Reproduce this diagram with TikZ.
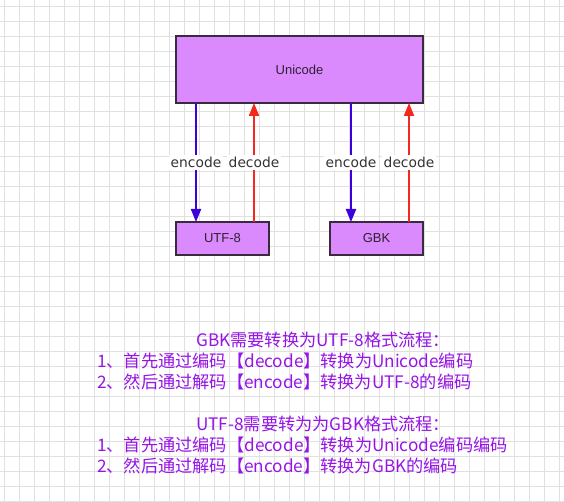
\documentclass[tikz,border=0pt]{standalone}
\usepackage{fontspec}
\setmainfont{Liberation Sans}
\newfontfamily\cjkfont{Noto Sans CJK SC}
\newfontfamily\lblfont{DejaVu Sans}
\usetikzlibrary{arrows.meta}
\definecolor{boxfill}{RGB}{218,138,252}
\definecolor{boxline}{RGB}{58,42,62}
\definecolor{enccol}{RGB}{60,0,220}
\definecolor{deccol}{RGB}{245,40,30}
\definecolor{txtcol}{RGB}{150,20,230}
\definecolor{gridcol}{RGB}{224,224,224}
\tikzset{
  codebox/.style={draw=boxline, line width=2pt, fill=boxfill, inner sep=0pt, outer sep=0pt,
    font=\fontsize{13}{15}\selectfont, text=boxline!80!black},
  enc/.style={draw=enccol, line width=2pt, -{Triangle[length=13pt,width=10pt]}},
  dec/.style={draw=deccol, line width=2pt, -{Triangle[length=13pt,width=10pt]}},
  lbl/.style={fill=white, inner sep=2pt, text=black!80, font=\lblfont\fontsize{13.8}{15}\selectfont},
  note/.style={anchor=west, inner sep=0pt, text=txtcol, font=\cjkfont\fontsize{17.2}{21}\selectfont},
  gridline/.style={draw=gridcol, line width=0.8pt}
}
\begin{document}
\begin{tikzpicture}[x=1pt, y=-1pt]
\useasboundingbox[fill=white] (0,0) rectangle (564,502);
% grid
\foreach \gx in {4,19,...,564} { \draw[gridline] (\gx,0) -- (\gx,502); }
\foreach \gy in {6,21,...,502} { \draw[gridline] (0,\gy) -- (564,\gy); }
% boxes
\node[codebox, minimum width=247pt, minimum height=67pt] (uni) at (299.5,69.5) {Unicode};
\node[codebox, minimum width=93pt, minimum height=33pt] (utf) at (222.5,238.5) {UTF-8};
\node[codebox, minimum width=93pt, minimum height=33pt] (gbk) at (376.5,238.5) {GBK};
% connectors
\draw[enc] ([xshift=20pt]uni.south west) -- node[lbl]{encode} ([xshift=20pt]utf.north west);
\draw[dec] ([xshift=78pt]utf.north west) -- node[lbl]{decode} ([xshift=78pt]uni.south west);
\draw[enc] ([xshift=175pt]uni.south west) -- node[lbl]{encode} ([xshift=21pt]gbk.north west);
\draw[dec] ([xshift=79pt]gbk.north west) -- node[lbl]{decode} ([xshift=-14pt]uni.south east);
% notes
\node[note] (n1) at (196,340) {GBK需要转换为UTF-8格式流程：};
\node[note] (n2) at (97,361) {1、首先通过编码【decode】转换为Unicode编码};
\node[note] (n3) at (97,382) {2、然后通过解码【encode】转换为UTF-8的编码};
\node[note] (n4) at (196,424) {UTF-8需要转为为GBK格式流程：};
\node[note] (n5) at (97,445) {1、首先通过编码【decode】转换为Unicode编码编码};
\node[note] (n6) at (97,466) {2、然后通过解码【encode】转换为GBK的编码};
\end{tikzpicture}
\end{document}
